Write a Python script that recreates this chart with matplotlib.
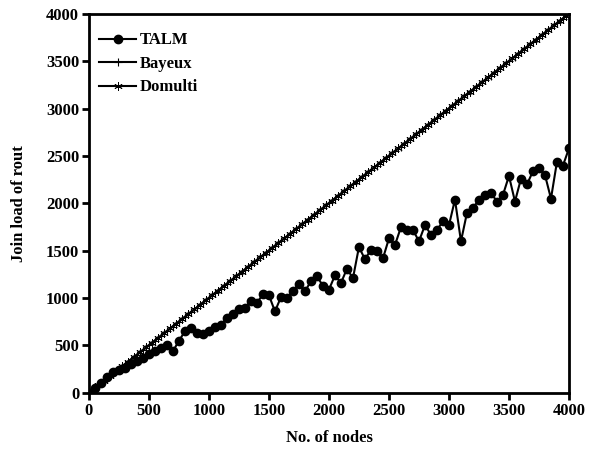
#!/usr/bin/env python3
"""
Join load of rout vs. number of nodes (TALM / Bayeux / Domulti)
Output: out.png
"""

import matplotlib
matplotlib.use("Agg")
import matplotlib.pyplot as plt

# =====================================
# Data
# =====================================
NODES = [0, 50, 100, 150, 200, 250, 300, 350, 400, 450,
         500, 550, 600, 650, 700, 750, 800, 850, 900, 950,
         1000, 1050, 1100, 1150, 1200, 1250, 1300, 1350, 1400, 1450,
         1500, 1550, 1600, 1650, 1700, 1750, 1800, 1850, 1900, 1950,
         2000, 2050, 2100, 2150, 2200, 2250, 2300, 2350, 2400, 2450,
         2500, 2550, 2600, 2650, 2700, 2750, 2800, 2850, 2900, 2950,
         3000, 3050, 3100, 3150, 3200, 3250, 3300, 3350, 3400, 3450,
         3500, 3550, 3600, 3650, 3700, 3750, 3800, 3850, 3900, 3950,
         4000]

TALM = [0, 50, 100, 170, 220, 240, 260, 300, 340, 370,
        410, 440, 470, 500, 440, 550, 650, 680, 630, 620,
        650, 690, 720, 790, 830, 880, 900, 970, 950, 1040,
        1030, 860, 1010, 1000, 1080, 1150, 1070, 1180, 1230, 1130,
        1090, 1240, 1160, 1310, 1210, 1540, 1410, 1510, 1500, 1420,
        1630, 1560, 1750, 1720, 1720, 1600, 1770, 1670, 1720, 1810,
        1770, 2040, 1600, 1900, 1950, 2040, 2090, 2110, 2020, 2090,
        2290, 2020, 2260, 2200, 2340, 2370, 2300, 2050, 2440, 2400,
        2580]

BAYEUX = [0, 50, 100, 150, 200, 250, 300, 350, 400, 450,
          500, 550, 600, 650, 700, 750, 800, 850, 900, 950,
          1000, 1050, 1100, 1150, 1200, 1250, 1300, 1350, 1400, 1450,
          1500, 1550, 1600, 1650, 1700, 1750, 1800, 1850, 1900, 1950,
          2000, 2050, 2100, 2150, 2200, 2250, 2300, 2350, 2400, 2450,
          2500, 2550, 2600, 2650, 2700, 2750, 2800, 2850, 2900, 2950,
          3000, 3050, 3100, 3150, 3200, 3250, 3300, 3350, 3400, 3450,
          3500, 3550, 3600, 3650, 3700, 3750, 3800, 3850, 3900, 3950,
          4000]

# Domulti was sampled between the Bayeux points
DOMULTI_NODES = [0, 25, 75, 125, 175, 225, 275, 325, 375, 425,
                 475, 525, 575, 625, 675, 725, 775, 825, 875, 925,
                 975, 1025, 1075, 1125, 1175, 1225, 1275, 1325, 1375, 1425,
                 1475, 1525, 1575, 1625, 1675, 1725, 1775, 1825, 1875, 1925,
                 1975, 2025, 2075, 2125, 2175, 2225, 2275, 2325, 2375, 2425,
                 2475, 2525, 2575, 2625, 2675, 2725, 2775, 2825, 2875, 2925,
                 2975, 3025, 3075, 3125, 3175, 3225, 3275, 3325, 3375, 3425,
                 3475, 3525, 3575, 3625, 3675, 3725, 3775, 3825, 3875, 3925,
                 3975, 4000]

DOMULTI = [0, 30, 80, 130, 180, 230, 280, 330, 380, 430,
           480, 530, 580, 630, 680, 730, 780, 830, 880, 930,
           980, 1030, 1080, 1130, 1180, 1230, 1280, 1330, 1380, 1430,
           1480, 1530, 1580, 1630, 1680, 1730, 1780, 1830, 1880, 1930,
           1980, 2030, 2080, 2130, 2180, 2230, 2280, 2330, 2380, 2430,
           2480, 2530, 2580, 2630, 2680, 2730, 2780, 2830, 2880, 2930,
           2980, 3030, 3080, 3130, 3180, 3230, 3280, 3330, 3380, 3430,
           3480, 3530, 3580, 3630, 3680, 3730, 3780, 3830, 3880, 3930,
           3980, 4000]

X_TICKS = [0, 500, 1000, 1500, 2000, 2500, 3000, 3500, 4000]
Y_TICKS = [0, 500, 1000, 1500, 2000, 2500, 3000, 3500, 4000]

# =====================================
# Plot
# =====================================
plt.rcParams['font.family'] = ['Liberation Serif', 'DejaVu Serif']
plt.rcParams['font.weight'] = 'bold'

fig = plt.figure(figsize=(5.89, 4.5), dpi=100)
ax = fig.add_axes([0.151, 0.127, 0.815, 0.842])

ax.plot(NODES, BAYEUX, color='black', linewidth=1.5, marker='+',
        markersize=6, markeredgewidth=0.8, label='Bayeux')
ax.plot(DOMULTI_NODES, DOMULTI, color='black', linewidth=1.5, marker=(6, 2, 0),
        markersize=6, markeredgewidth=0.6, label='Domulti')
ax.plot(NODES, TALM, color='black', linewidth=1.5, marker='o',
        markersize=6, label='TALM')

ax.set_xlim(0, 4000)
ax.set_ylim(0, 4000)
ax.set_xticks(X_TICKS)
ax.set_yticks(Y_TICKS)

for sp in ax.spines.values():
    sp.set_linewidth(2)
ax.tick_params(direction='out', length=5, width=2, labelsize=12, pad=2)

ax.set_xlabel('No. of nodes', fontsize=12, fontweight='bold', labelpad=8)
ax.set_ylabel('Join load of rout', fontsize=12, fontweight='bold', labelpad=14)

handles, labels = ax.get_legend_handles_labels()
order = [2, 0, 1]
ax.legend([handles[i] for i in order], [labels[i] for i in order],
          loc='upper left', bbox_to_anchor=(0.015, 0.96), frameon=False,
          fontsize=12, handlelength=2.2, handletextpad=0.2,
          labelspacing=0.45, borderaxespad=0.0, borderpad=0.2)

fig.savefig('out.png', dpi=100)
